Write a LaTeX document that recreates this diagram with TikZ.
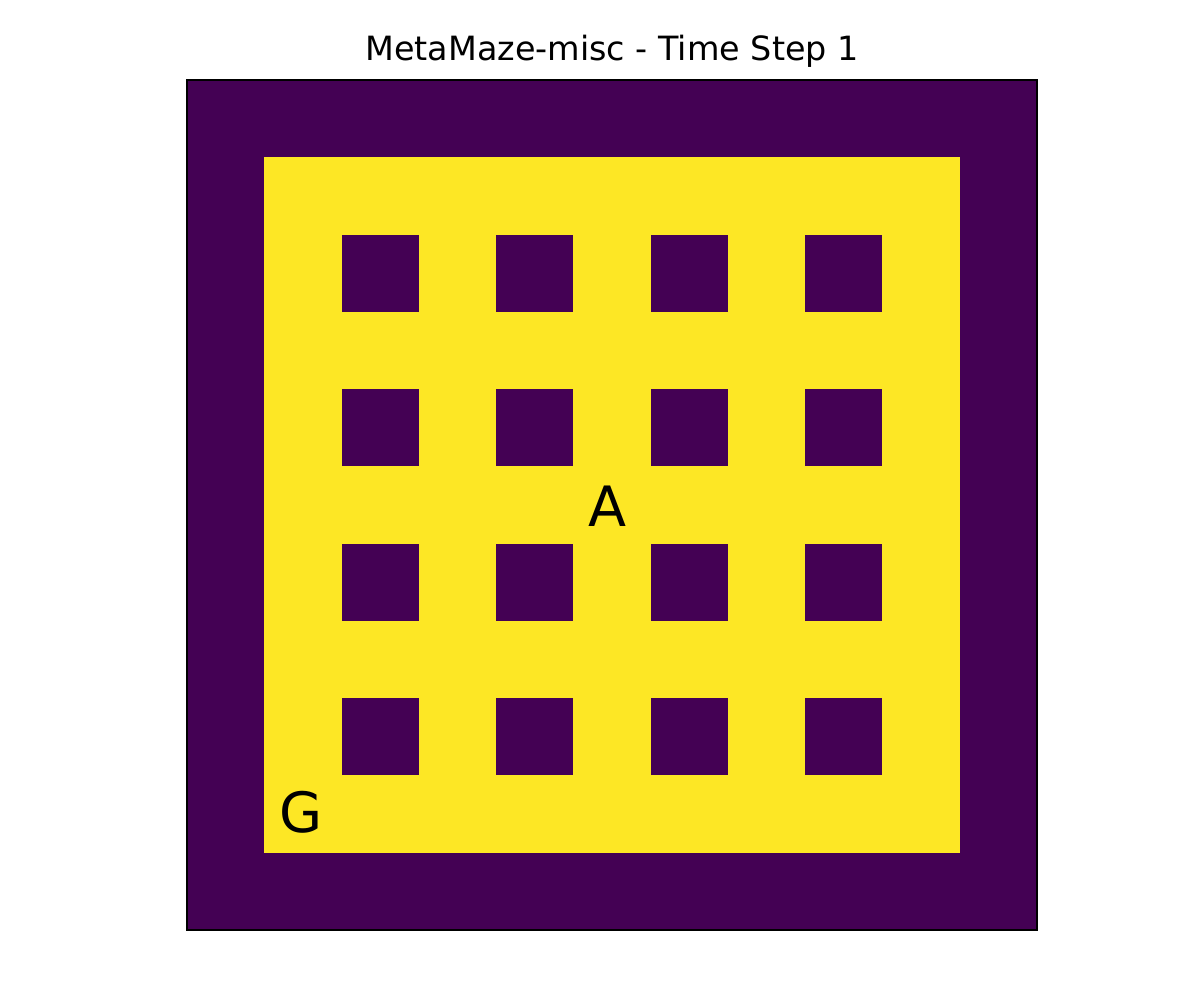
\documentclass[tikz,border=0pt]{standalone}
\usepackage{fontspec}
\setmainfont{DejaVu Sans}
\definecolor{wallc}{HTML}{440154}
\definecolor{freec}{HTML}{FDE725}
\begin{document}
\begin{tikzpicture}[x=1pt,y=-1pt,
  wall/.style={fill=wallc,draw=none},
  free/.style={fill=freec,draw=none},
  lbl/.style={inner sep=0pt,anchor=base,font=\fontsize{55.6}{60}\selectfont},
  ttl/.style={inner sep=0pt,anchor=base,font=\fontsize{33.4}{36}\selectfont}]
\useasboundingbox[fill=white] (0,0) rectangle (1200,1000);
\def\c{77.2727}
% outer wall
\fill[wallc] (187,80) rectangle (1037,930);
% free interior
\fill[freec] (187+\c,80+\c) rectangle (1037-\c,930-\c);
% inner blocks
\foreach \i in {2,4,6,8}{
  \foreach \j in {2,4,6,8}{
    \fill[wallc] ({187+\i*\c},{80+\j*\c}) rectangle ({187+(\i+1)*\c},{80+(\j+1)*\c});
  }
}
\draw[black,line width=1.3pt] (187,80) rectangle (1037,930);
\node[ttl] (title) at (612,61) {MetaMaze-misc - Time Step 1};
\node[lbl] (agent) at (607.5,526) {A};
\node[lbl] (goal) at (301,832) {G};
\end{tikzpicture}
\end{document}
